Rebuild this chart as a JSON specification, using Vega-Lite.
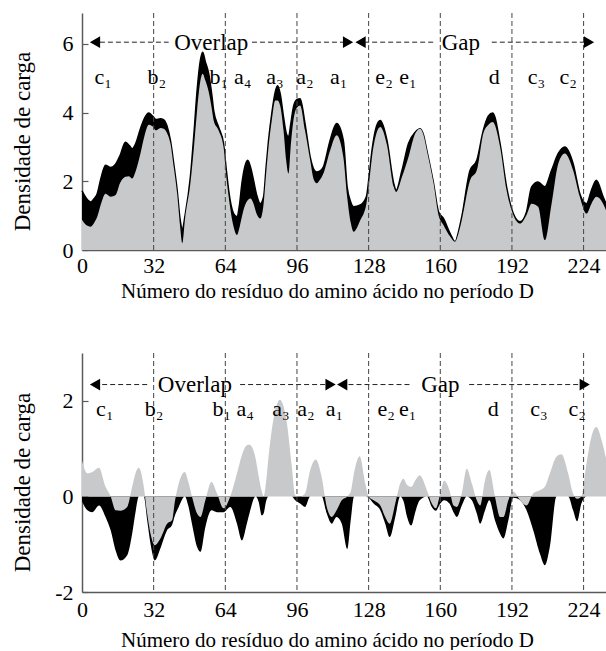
{
  "$schema": "https://vega.github.io/schema/vega-lite/v6.json",
  "padding": {"left": 10, "top": 12, "right": 0, "bottom": 0},
  "spacing": 103,
  "bounds": "flush",
  "config": {
    "font": "Liberation Serif",
    "view": {"stroke": null},
    "axis": {
      "labelFont": "Liberation Serif",
      "titleFont": "Liberation Serif",
      "labelColor": "#000",
      "titleColor": "#000",
      "titleFontWeight": "normal",
      "domainColor": "#5a5a5a",
      "domainWidth": 1.5,
      "tickColor": "#5a5a5a",
      "grid": false,
      "labelFontSize": 22,
      "zindex": 1
    },
    "text": {"font": "Liberation Serif", "color": "#000"}
  },
  "datasets": {
    "top": [
      {"x": 0, "up": 1.72, "lo": 0.88}, {"x": 2, "up": 1.5, "lo": 0.72}, {"x": 3.9, "up": 1.4, "lo": 0.68},
      {"x": 5.5, "up": 1.5, "lo": 0.8}, {"x": 6.8, "up": 1.64, "lo": 0.97}, {"x": 8.5, "up": 2.1, "lo": 1.35},
      {"x": 10.5, "up": 2.47, "lo": 1.64}, {"x": 12.8, "up": 2.4, "lo": 1.55}, {"x": 15, "up": 2.5, "lo": 1.6},
      {"x": 17, "up": 2.75, "lo": 1.95}, {"x": 19.4, "up": 3.14, "lo": 2.13}, {"x": 21, "up": 3.05, "lo": 2.15},
      {"x": 22.4, "up": 2.95, "lo": 2.08}, {"x": 24, "up": 3.1, "lo": 2.3}, {"x": 26.1, "up": 3.53, "lo": 2.81},
      {"x": 28, "up": 3.85, "lo": 3.35}, {"x": 29.8, "up": 3.99, "lo": 3.65}, {"x": 31.5, "up": 3.9, "lo": 3.6},
      {"x": 33, "up": 3.8, "lo": 3.48}, {"x": 35, "up": 3.82, "lo": 3.55}, {"x": 36.5, "up": 3.79, "lo": 3.53},
      {"x": 38, "up": 3.6, "lo": 3.4}, {"x": 39.5, "up": 3.19, "lo": 3.1}, {"x": 41, "up": 2.5, "lo": 2.4},
      {"x": 42.5, "up": 1.74, "lo": 1.64}, {"x": 43.8, "up": 0.9, "lo": 0.7}, {"x": 44.8, "up": 0.6, "lo": 0.2},
      {"x": 46, "up": 1.0, "lo": 0.9}, {"x": 48.4, "up": 2.13, "lo": 1.94}, {"x": 50, "up": 3.4, "lo": 3.0},
      {"x": 51.4, "up": 4.64, "lo": 4.06}, {"x": 52.8, "up": 5.5, "lo": 4.9}, {"x": 53.9, "up": 5.76, "lo": 5.13},
      {"x": 55, "up": 5.5, "lo": 4.95}, {"x": 56.6, "up": 5.13, "lo": 4.6}, {"x": 58, "up": 4.5, "lo": 4.1},
      {"x": 58.8, "up": 4.06, "lo": 3.77}, {"x": 61, "up": 3.58, "lo": 3.48}, {"x": 63.2, "up": 3.1, "lo": 3.0},
      {"x": 64.5, "up": 2.3, "lo": 2.1}, {"x": 65.5, "up": 1.74, "lo": 1.55}, {"x": 67.7, "up": 1.06, "lo": 0.68},
      {"x": 69.2, "up": 0.97, "lo": 0.44}, {"x": 70.3, "up": 1.3, "lo": 0.65}, {"x": 71.4, "up": 1.94, "lo": 0.97},
      {"x": 72.8, "up": 2.45, "lo": 1.3}, {"x": 74, "up": 2.61, "lo": 1.45}, {"x": 75.3, "up": 2.4, "lo": 1.5},
      {"x": 76.6, "up": 2.03, "lo": 1.35}, {"x": 78, "up": 1.6, "lo": 1.05}, {"x": 79.6, "up": 1.35, "lo": 0.92},
      {"x": 81.1, "up": 1.55, "lo": 1.35}, {"x": 82.2, "up": 2.4, "lo": 2.2}, {"x": 83.3, "up": 3.19, "lo": 3.0},
      {"x": 84.8, "up": 4.0, "lo": 3.8}, {"x": 86.3, "up": 4.6, "lo": 4.35}, {"x": 87.3, "up": 4.78, "lo": 4.35},
      {"x": 88.5, "up": 4.55, "lo": 4.2}, {"x": 90, "up": 3.87, "lo": 3.48}, {"x": 91.2, "up": 3.4, "lo": 2.6},
      {"x": 92.2, "up": 3.29, "lo": 2.23}, {"x": 93.3, "up": 3.7, "lo": 3.1}, {"x": 94.4, "up": 4.16, "lo": 3.77},
      {"x": 96, "up": 4.38, "lo": 4.15}, {"x": 97.4, "up": 4.4, "lo": 4.21}, {"x": 99.6, "up": 3.68, "lo": 3.48},
      {"x": 101.9, "up": 2.71, "lo": 2.61}, {"x": 103.5, "up": 2.35, "lo": 2.05}, {"x": 104.8, "up": 2.27, "lo": 1.94},
      {"x": 106.3, "up": 2.3, "lo": 2.05}, {"x": 107.8, "up": 2.42, "lo": 2.23}, {"x": 110.8, "up": 3.19, "lo": 2.9},
      {"x": 113.7, "up": 3.68, "lo": 3.34}, {"x": 116.7, "up": 3.19, "lo": 2.71}, {"x": 118.4, "up": 1.84, "lo": 1.55},
      {"x": 120, "up": 1.4, "lo": 0.8}, {"x": 121.3, "up": 1.26, "lo": 0.53}, {"x": 124.3, "up": 1.31, "lo": 0.87},
      {"x": 127, "up": 1.55, "lo": 1.35}, {"x": 128.3, "up": 2.2, "lo": 2.0}, {"x": 129.5, "up": 2.9, "lo": 2.71},
      {"x": 131.5, "up": 3.6, "lo": 3.4}, {"x": 133.2, "up": 3.77, "lo": 3.58}, {"x": 136.2, "up": 3.19, "lo": 3.05},
      {"x": 139.2, "up": 1.94, "lo": 1.84}, {"x": 140.3, "up": 1.74, "lo": 1.69}, {"x": 142.9, "up": 2.32, "lo": 2.13},
      {"x": 145.8, "up": 3.1, "lo": 2.71}, {"x": 148.8, "up": 3.43, "lo": 3.39}, {"x": 151, "up": 3.53, "lo": 3.53},
      {"x": 152.5, "up": 3.35, "lo": 3.35}, {"x": 154, "up": 2.9, "lo": 2.9}, {"x": 157, "up": 1.94, "lo": 1.94},
      {"x": 159.2, "up": 1.11, "lo": 1.02}, {"x": 161.4, "up": 0.92, "lo": 0.73}, {"x": 164.4, "up": 0.48, "lo": 0.39},
      {"x": 166.6, "up": 0.24, "lo": 0.24}, {"x": 168, "up": 0.5, "lo": 0.45}, {"x": 169.6, "up": 0.97, "lo": 0.87},
      {"x": 173.3, "up": 2.32, "lo": 2.03}, {"x": 176.3, "up": 2.61, "lo": 2.32}, {"x": 179.2, "up": 3.48, "lo": 3.39},
      {"x": 181.5, "up": 3.9, "lo": 3.65}, {"x": 183.4, "up": 3.99, "lo": 3.73}, {"x": 186.7, "up": 3.1, "lo": 3.0},
      {"x": 189.6, "up": 1.84, "lo": 1.74}, {"x": 192.6, "up": 1.06, "lo": 1.02}, {"x": 195.6, "up": 0.82, "lo": 0.77},
      {"x": 198.5, "up": 1.11, "lo": 1.02}, {"x": 200.8, "up": 1.84, "lo": 1.35}, {"x": 203.7, "up": 1.98, "lo": 1.26},
      {"x": 206.7, "up": 1.84, "lo": 0.29}, {"x": 209.7, "up": 2.32, "lo": 1.35}, {"x": 212.7, "up": 2.81, "lo": 2.52},
      {"x": 215.6, "up": 3.0, "lo": 2.81}, {"x": 219.3, "up": 2.52, "lo": 2.32}, {"x": 222.3, "up": 1.64, "lo": 1.55},
      {"x": 225.3, "up": 1.35, "lo": 1.06}, {"x": 227.5, "up": 1.74, "lo": 1.35}, {"x": 229.7, "up": 2.03, "lo": 1.55},
      {"x": 232.7, "up": 1.55, "lo": 1.35}, {"x": 234, "up": 1.35, "lo": 1.16}
    ],
    "bottom": [
      {"x": 0, "g": 0.75, "b": -0.1}, {"x": 2.4, "g": 0.48, "b": -0.29}, {"x": 4.6, "g": 0.51, "b": -0.33},
      {"x": 7.6, "g": 0.6, "b": -0.19}, {"x": 10.5, "g": 0.2, "b": -0.43}, {"x": 12.8, "g": 0, "b": -0.71},
      {"x": 15, "g": -0.29, "b": -1.13}, {"x": 17.2, "g": -0.3, "b": -1.34}, {"x": 20.2, "g": -0.22, "b": -1.23},
      {"x": 22.4, "g": 0.2, "b": -0.78}, {"x": 24, "g": 0.5, "b": -0.3}, {"x": 25.4, "g": 0.6, "b": 0},
      {"x": 27.6, "g": 0.2, "b": 0}, {"x": 29.1, "g": -0.36, "b": -0.5}, {"x": 30.6, "g": -0.78, "b": -0.99},
      {"x": 32.5, "g": -1.02, "b": -1.34}, {"x": 35, "g": -0.88, "b": -1.09}, {"x": 38, "g": -0.57, "b": -0.71},
      {"x": 40.2, "g": -0.5, "b": -0.6}, {"x": 41.5, "g": -0.1, "b": -0.4}, {"x": 43.2, "g": 0.27, "b": -0.22},
      {"x": 45.9, "g": 0.51, "b": 0}, {"x": 47.5, "g": 0.3, "b": -0.2}, {"x": 49.1, "g": 0, "b": -0.57},
      {"x": 51.4, "g": -0.36, "b": -1.06}, {"x": 52.9, "g": -0.43, "b": -1.16}, {"x": 55.1, "g": -0.08, "b": -0.64},
      {"x": 57.8, "g": 0.3, "b": -0.29}, {"x": 60.3, "g": 0.06, "b": -0.33}, {"x": 63.2, "g": -0.25, "b": -0.33},
      {"x": 66.2, "g": 0, "b": -0.22}, {"x": 69.2, "g": 0.48, "b": -0.57}, {"x": 71.4, "g": 0.86, "b": -0.92},
      {"x": 73.6, "g": 1.07, "b": -0.57}, {"x": 74.8, "g": 1.08, "b": -0.35}, {"x": 77.5, "g": 0.8, "b": 0},
      {"x": 78.8, "g": 0.45, "b": -0.1}, {"x": 80.3, "g": 0.1, "b": -0.4}, {"x": 81.1, "g": 0, "b": -0.36},
      {"x": 82.2, "g": 0.3, "b": -0.1}, {"x": 83.3, "g": 0.83, "b": 0}, {"x": 86.3, "g": 1.8, "b": 0},
      {"x": 88.3, "g": 2.02, "b": 0}, {"x": 91.5, "g": 1.53, "b": 0}, {"x": 93.7, "g": 0.62, "b": 0},
      {"x": 95.2, "g": 0.02, "b": -0.08}, {"x": 97.4, "g": 0, "b": -0.15}, {"x": 99.6, "g": 0.06, "b": -0.22},
      {"x": 101.9, "g": 0.55, "b": 0}, {"x": 104.4, "g": 0.77, "b": 0}, {"x": 107, "g": 0.41, "b": 0},
      {"x": 109.3, "g": -0.22, "b": -0.36}, {"x": 111.5, "g": -0.43, "b": -0.57}, {"x": 113.7, "g": -0.29, "b": -0.43},
      {"x": 116, "g": -0.08, "b": -0.57}, {"x": 118.5, "g": 0, "b": -1.1}, {"x": 120, "g": 0.1, "b": -0.5},
      {"x": 121.5, "g": 0.5, "b": 0}, {"x": 124, "g": 0.84, "b": 0}, {"x": 126.5, "g": 0.27, "b": 0},
      {"x": 128, "g": 0, "b": -0.03}, {"x": 130.2, "g": -0.08, "b": -0.15}, {"x": 133.2, "g": -0.19, "b": -0.29},
      {"x": 135.4, "g": -0.43, "b": -0.57}, {"x": 137.4, "g": -0.57, "b": -0.85}, {"x": 139.9, "g": -0.15, "b": -0.43},
      {"x": 142.1, "g": 0.27, "b": 0}, {"x": 143.6, "g": 0.37, "b": -0.1}, {"x": 145, "g": 0.25, "b": -0.4},
      {"x": 147, "g": 0.2, "b": -0.61}, {"x": 149, "g": 0.35, "b": -0.3}, {"x": 150.8, "g": 0.44, "b": -0.08},
      {"x": 154, "g": 0.13, "b": 0}, {"x": 156.2, "g": -0.15, "b": -0.22}, {"x": 158, "g": -0.25, "b": -0.3},
      {"x": 160, "g": 0.06, "b": -0.15}, {"x": 161.7, "g": 0.33, "b": -0.08}, {"x": 164.1, "g": 0.13, "b": -0.15},
      {"x": 165.9, "g": -0.19, "b": -0.33}, {"x": 167.4, "g": -0.22, "b": -0.43}, {"x": 169.6, "g": 0.06, "b": -0.19},
      {"x": 171.8, "g": 0.58, "b": 0}, {"x": 174.1, "g": 0.27, "b": -0.08}, {"x": 176.3, "g": -0.08, "b": -0.36},
      {"x": 177.8, "g": -0.19, "b": -0.57}, {"x": 180, "g": 0.34, "b": -0.29}, {"x": 181.9, "g": 0.55, "b": -0.08},
      {"x": 184.4, "g": 0, "b": -0.5}, {"x": 186.7, "g": -0.43, "b": -0.78}, {"x": 188.2, "g": -0.43, "b": -0.88},
      {"x": 190.4, "g": -0.08, "b": -0.5}, {"x": 192.6, "g": 0.1, "b": -0.03}, {"x": 195.6, "g": -0.08, "b": -0.08},
      {"x": 198.5, "g": -0.19, "b": -0.29}, {"x": 201.5, "g": 0.06, "b": -0.71}, {"x": 204.5, "g": 0.13, "b": -1.2},
      {"x": 206.7, "g": 0.2, "b": -1.44}, {"x": 208.9, "g": 0.48, "b": -1.06}, {"x": 211.9, "g": 0.83, "b": 0},
      {"x": 214.1, "g": 0.88, "b": 0}, {"x": 217.1, "g": 0.48, "b": 0}, {"x": 219.3, "g": 0.06, "b": -0.29},
      {"x": 221.1, "g": -0.05, "b": -0.52}, {"x": 223, "g": 0, "b": -0.15}, {"x": 225.3, "g": 0.69, "b": 0},
      {"x": 227.5, "g": 1.25, "b": 0}, {"x": 229.7, "g": 1.45, "b": 0}, {"x": 232, "g": 1.18, "b": 0},
      {"x": 234, "g": 0.8, "b": 0}
    ],
    "bounds": [{"x": 32}, {"x": 64}, {"x": 96}, {"x": 128}, {"x": 160}, {"x": 192}, {"x": 224}],
    "topDash": [
      {"x": 8, "x2": 38.7, "y": 6.05}, {"x": 75.9, "x2": 117, "y": 6.05},
      {"x": 126, "x2": 157.5, "y": 6.05}, {"x": 183, "x2": 224.5, "y": 6.05}
    ],
    "topHeads": [
      {"x": 5.8, "y": 6.05, "dir": "left"}, {"x": 118.8, "y": 6.05, "dir": "right"},
      {"x": 124.4, "y": 6.05, "dir": "left"}, {"x": 226.4, "y": 6.05, "dir": "right"}
    ],
    "topSpans": [
      {"x": 57.7, "y": 5.81, "label": "Overlap"}, {"x": 169.2, "y": 5.81, "label": "Gap"}
    ],
    "topBands": [
      {"x": 9.5, "y": 4.82, "label": "c₁"}, {"x": 33.4, "y": 4.82, "label": "b₂"},
      {"x": 61.1, "y": 4.82, "label": "b₁"}, {"x": 71.8, "y": 4.82, "label": "a₄"},
      {"x": 86.2, "y": 4.82, "label": "a₃"}, {"x": 99.6, "y": 4.82, "label": "a₂"},
      {"x": 114.6, "y": 4.82, "label": "a₁"}, {"x": 134.9, "y": 4.82, "label": "e₂"},
      {"x": 145.6, "y": 4.82, "label": "e₁"}, {"x": 184.1, "y": 4.82, "label": "d"},
      {"x": 202.9, "y": 4.82, "label": "c₃"}, {"x": 217.1, "y": 4.82, "label": "c₂"}
    ],
    "botDash": [
      {"x": 9, "x2": 29.4, "y": 2.34}, {"x": 70.6, "x2": 109, "y": 2.34},
      {"x": 119, "x2": 146.3, "y": 2.34}, {"x": 172.9, "x2": 222.5, "y": 2.34}
    ],
    "botHeads": [
      {"x": 5.8, "y": 2.34, "dir": "left"}, {"x": 111, "y": 2.34, "dir": "right"},
      {"x": 116.2, "y": 2.34, "dir": "left"}, {"x": 224.5, "y": 2.34, "dir": "right"}
    ],
    "botSpans": [
      {"x": 50.4, "y": 2.18, "label": "Overlap"}, {"x": 160, "y": 2.18, "label": "Gap"}
    ],
    "botBands": [
      {"x": 10.2, "y": 1.69, "label": "c₁"}, {"x": 32.2, "y": 1.69, "label": "b₂"},
      {"x": 62.4, "y": 1.69, "label": "b₁"}, {"x": 72.9, "y": 1.69, "label": "a₄"},
      {"x": 88.8, "y": 1.69, "label": "a₃"}, {"x": 100, "y": 1.69, "label": "a₂"},
      {"x": 112.7, "y": 1.69, "label": "a₁"}, {"x": 135.8, "y": 1.69, "label": "e₂"},
      {"x": 145.4, "y": 1.69, "label": "e₁"}, {"x": 183.6, "y": 1.69, "label": "d"},
      {"x": 204.1, "y": 1.69, "label": "c₃"}, {"x": 221.1, "y": 1.69, "label": "c₂"}
    ]
  },
  "vconcat": [
    {
      "width": 524,
      "height": 237,
      "encoding": {
        "x": {
          "field": "x",
          "type": "quantitative",
          "scale": {"domain": [0, 234], "nice": false, "zero": false},
          "axis": {
            "values": [0, 32, 64, 96, 128, 160, 192, 224],
            "ticks": false,
            "labelPadding": 5,
            "labelFlush": false,
            "title": "Número do resíduo do amino ácido no período D",
            "titleFontSize": 21,
            "titleX": 245,
            "titleY": 47,
            "titleBaseline": "alphabetic"
          }
        },
        "y": {
          "field": "up",
          "type": "quantitative",
          "scale": {"domain": [0, 6.9], "nice": false},
          "axis": {
            "values": [0, 2, 4, 6],
            "tickSize": -6,
            "tickWidth": 1.2,
            "labelPadding": 15,
            "title": "Densidade de carga",
            "titleFontSize": 23,
            "titleX": -53,
            "titleY": 128,
            "titleBaseline": "alphabetic"
          }
        }
      },
      "layer": [
        {
          "data": {"name": "top"},
          "mark": {"type": "area", "color": "#000", "interpolate": "monotone"}
        },
        {
          "data": {"name": "top"},
          "mark": {"type": "line", "color": "#000", "strokeWidth": 1.5, "interpolate": "monotone"}
        },
        {
          "data": {"name": "top"},
          "mark": {"type": "area", "color": "#c8c9cb", "opacity": 1, "interpolate": "monotone"},
          "encoding": {"y": {"field": "lo", "type": "quantitative"}}
        },
        {
          "data": {"name": "bounds"},
          "mark": {"type": "rule", "color": "#444", "strokeWidth": 1, "strokeDash": [5, 3]},
          "encoding": {"y": null}
        },
        {
          "data": {"name": "topDash"},
          "mark": {"type": "rule", "color": "#222", "strokeWidth": 1, "strokeDash": [5, 3]},
          "encoding": {
            "x2": {"field": "x2"},
            "y": {"field": "y", "type": "quantitative"}
          }
        },
        {
          "data": {"name": "topHeads"},
          "mark": {"type": "point", "filled": true, "color": "#000", "opacity": 1, "size": 140},
          "encoding": {
            "y": {"field": "y", "type": "quantitative"},
            "shape": {"field": "dir", "type": "nominal", "scale": {"domain": ["left", "right"], "range": ["triangle-left", "triangle-right"]}, "legend": null}
          }
        },
        {
          "data": {"name": "topSpans"},
          "mark": {"type": "text", "fontSize": 23, "align": "center", "baseline": "alphabetic"},
          "encoding": {
            "y": {"field": "y", "type": "quantitative"},
            "text": {"field": "label"}
          }
        },
        {
          "data": {"name": "topBands"},
          "mark": {"type": "text", "fontSize": 22, "align": "center", "baseline": "alphabetic"},
          "encoding": {
            "y": {"field": "y", "type": "quantitative"},
            "text": {"field": "label"}
          }
        },
        {
          "mark": {"type": "rule", "color": "#5a5a5a", "strokeWidth": 1.5},
          "encoding": {
            "x": {"datum": 0},
            "x2": {"datum": 234},
            "y": {"datum": 6.9}
          }
        }
      ]
    },
    {
      "width": 524,
      "height": 239,
      "encoding": {
        "x": {
          "field": "x",
          "type": "quantitative",
          "scale": {"domain": [0, 234], "nice": false, "zero": false},
          "axis": {
            "values": [0, 32, 64, 96, 128, 160, 192, 224],
            "ticks": false,
            "labelPadding": 7.5,
            "labelFlush": false,
            "title": "Número do resíduo do amino ácido no período D",
            "titleFontSize": 21,
            "titleX": 245,
            "titleY": 54,
            "titleBaseline": "alphabetic"
          }
        },
        "y": {
          "field": "b",
          "type": "quantitative",
          "scale": {"domain": [-2, 3], "nice": false},
          "axis": {
            "values": [-2, 0, 2],
            "labelExpr": "'' + datum.value",
            "tickSize": -6,
            "tickWidth": 1.2,
            "labelPadding": 15,
            "title": "Densidade de carga",
            "titleFontSize": 23,
            "titleX": -53,
            "titleY": 129,
            "titleBaseline": "alphabetic"
          }
        }
      },
      "layer": [
        {
          "data": {"name": "bottom"},
          "mark": {"type": "area", "color": "#000", "interpolate": "monotone"}
        },
        {
          "mark": {"type": "rule", "color": "#a3a3a3", "strokeWidth": 1.5},
          "encoding": {
            "x": {"datum": 0},
            "x2": {"datum": 234},
            "y": {"datum": 0}
          }
        },
        {
          "data": {"name": "bottom"},
          "mark": {"type": "area", "color": "#c8c9cb", "opacity": 1, "interpolate": "monotone"},
          "encoding": {"y": {"field": "g", "type": "quantitative"}}
        },
        {
          "data": {"name": "bounds"},
          "mark": {"type": "rule", "color": "#444", "strokeWidth": 1, "strokeDash": [5, 3]},
          "encoding": {"y": null}
        },
        {
          "data": {"name": "botDash"},
          "mark": {"type": "rule", "color": "#222", "strokeWidth": 1, "strokeDash": [5, 3]},
          "encoding": {
            "x2": {"field": "x2"},
            "y": {"field": "y", "type": "quantitative"}
          }
        },
        {
          "data": {"name": "botHeads"},
          "mark": {"type": "point", "filled": true, "color": "#000", "opacity": 1, "size": 140},
          "encoding": {
            "y": {"field": "y", "type": "quantitative"},
            "shape": {"field": "dir", "type": "nominal", "scale": {"domain": ["left", "right"], "range": ["triangle-left", "triangle-right"]}, "legend": null}
          }
        },
        {
          "data": {"name": "botSpans"},
          "mark": {"type": "text", "fontSize": 23, "align": "center", "baseline": "alphabetic"},
          "encoding": {
            "y": {"field": "y", "type": "quantitative"},
            "text": {"field": "label"}
          }
        },
        {
          "data": {"name": "botBands"},
          "mark": {"type": "text", "fontSize": 22, "align": "center", "baseline": "alphabetic"},
          "encoding": {
            "y": {"field": "y", "type": "quantitative"},
            "text": {"field": "label"}
          }
        },
        {
          "mark": {"type": "rule", "color": "#5a5a5a", "strokeWidth": 1.5},
          "encoding": {
            "x": {"datum": 0},
            "x2": {"datum": 234},
            "y": {"datum": 3}
          }
        }
      ]
    }
  ]
}
